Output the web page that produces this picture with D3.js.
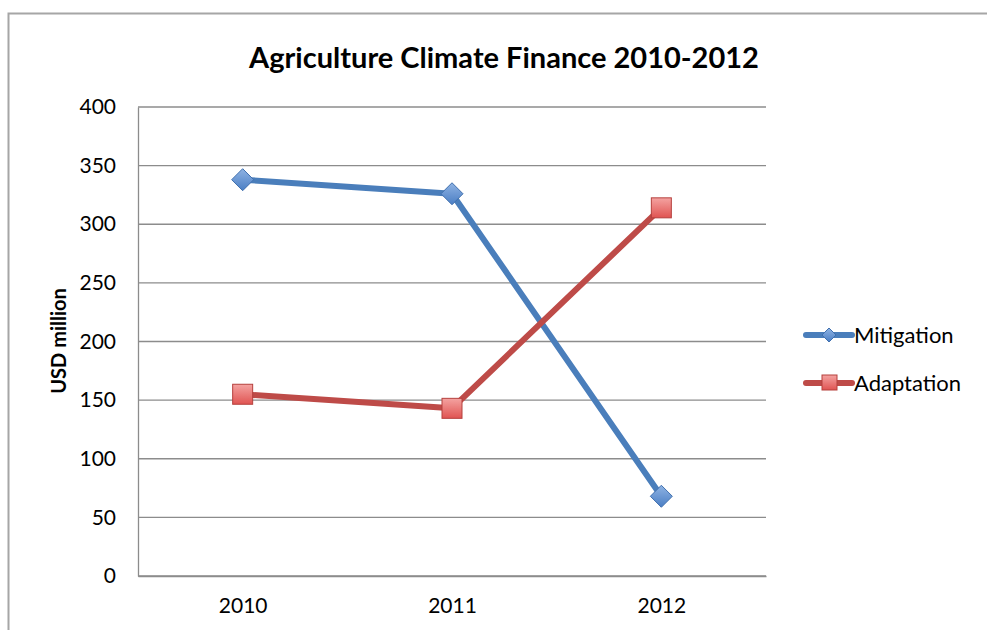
<!DOCTYPE html>
<html><head><meta charset="utf-8">
<script src="https://cdn.jsdelivr.net/npm/d3@7"></script>
<style>body{margin:0;background:#fff}svg{display:block}</style>
</head><body>
<svg id="c" width="987" height="630"></svg>
<script>
const categories = ["2010", "2011", "2012"];
const mitigation = [338, 326, 68];
const adaptation = [155, 143, 314];
const yTicks = [0, 50, 100, 150, 200, 250, 300, 350, 400];
const seriesNames = ["Mitigation", "Adaptation"];

const svg = d3.select("#c");
const font = "Lato, 'Open Sans', sans-serif";
const M = {l:138, r:766, t:107, b:576};

const defs = svg.append("defs");
const gb = defs.append("linearGradient").attr("id","gb").attr("x1",0).attr("y1",0).attr("x2",0).attr("y2",1);
gb.append("stop").attr("offset","0").attr("stop-color","#8fb3e3");
gb.append("stop").attr("offset","1").attr("stop-color","#4a7ec4");
const gr = defs.append("linearGradient").attr("id","gr").attr("x1",0).attr("y1",0).attr("x2",0).attr("y2",1);
gr.append("stop").attr("offset","0").attr("stop-color","#f4a3a1");
gr.append("stop").attr("offset","1").attr("stop-color","#e05452");

// frame
svg.append("path").attr("d","M8.5,630 V13.5 H987").attr("fill","none").attr("stroke","#a6a6a6").attr("stroke-width",2);

const x = d3.scalePoint().domain(categories).range([M.l, M.r]).padding(0.5);
const y = d3.scaleLinear().domain([0,400]).range([M.b, M.t]);

// gridlines
svg.append("g").selectAll("line").data(yTicks).join("line")
  .attr("x1", M.l).attr("x2", M.r).attr("y1", d=>y(d)).attr("y2", d=>y(d))
  .attr("stroke","#8c8c8c").attr("stroke-width",1.3);

// y axis
const ya = svg.append("g").attr("transform",`translate(${M.l},0)`)
  .call(d3.axisLeft(y).tickValues(yTicks).tickSize(0).tickPadding(22));
ya.select(".domain").attr("stroke","#8c8c8c").attr("stroke-width",1.3);
ya.selectAll("text").attr("font-family",font).attr("font-size",21).attr("fill","#000");

// x axis
const xa = svg.append("g").attr("transform",`translate(0,${M.b})`)
  .call(d3.axisBottom(x).tickSize(0).tickPadding(22));
xa.select(".domain").attr("stroke","#8c8c8c").attr("stroke-width",1.3);
xa.selectAll("text").attr("font-family",font).attr("font-size",21).attr("fill","#000");

// title
svg.append("text").attr("x",504).attr("y",68).attr("text-anchor","middle")
  .attr("font-family",font).attr("font-weight","bold").attr("font-size",29).text("Agriculture Climate Finance 2010-2012");

// y title
svg.append("text").attr("transform","translate(66,341) rotate(-90)").attr("text-anchor","middle")
  .attr("font-family",font).attr("font-weight","bold").attr("font-size",20).text("USD million");

const line = d3.line().x((d,i)=>x(categories[i])).y(d=>y(d));
const series = [
  {name: seriesNames[0], vals: mitigation, stroke:"#4a7ebb", fill:"url(#gb)", mstroke:"#3f6fae", shape:"diamond"},
  {name: seriesNames[1], vals: adaptation, stroke:"#be4b48", fill:"url(#gr)", mstroke:"#b5403d", shape:"square"}
];
function marker(g, s, cx, cy){
  if (s.shape==="diamond"){
    g.append("path").attr("d",`M${cx},${cy-11} L${cx+11},${cy} L${cx},${cy+11} L${cx-11},${cy} Z`)
      .attr("fill",s.fill).attr("stroke",s.mstroke).attr("stroke-width",1);
  } else {
    g.append("rect").attr("x",cx-10).attr("y",cy-10).attr("width",20).attr("height",20)
      .attr("fill",s.fill).attr("stroke",s.mstroke).attr("stroke-width",1);
  }
}
series.forEach(s=>{
  svg.append("path").datum(s.vals).attr("d",line).attr("fill","none")
    .attr("stroke",s.stroke).attr("stroke-width",6).attr("stroke-linejoin","round").attr("stroke-linecap","round");
  const g = svg.append("g");
  s.vals.forEach((v,i)=>marker(g, s, x(categories[i]), y(v)));
});

// legend
series.forEach((s,i)=>{
  const ly = 335 + i*48;
  const g = svg.append("g");
  g.append("line").attr("x1",806).attr("x2",852).attr("y1",ly).attr("y2",ly)
    .attr("stroke",s.stroke).attr("stroke-width",6).attr("stroke-linecap","round");
  if (s.shape==="diamond"){
    g.append("path").attr("d",`M829,${ly-7} L836,${ly} L829,${ly+7} L822,${ly} Z`).attr("fill",s.fill).attr("stroke",s.mstroke);
  } else {
    g.append("rect").attr("x",822).attr("y",ly-8).attr("width",15).attr("height",15).attr("fill",s.fill).attr("stroke",s.mstroke);
  }
  g.append("text").attr("x",854).attr("y",ly+8).attr("font-family",font).attr("font-size",22).text(s.name);
});
</script>
</body></html>
